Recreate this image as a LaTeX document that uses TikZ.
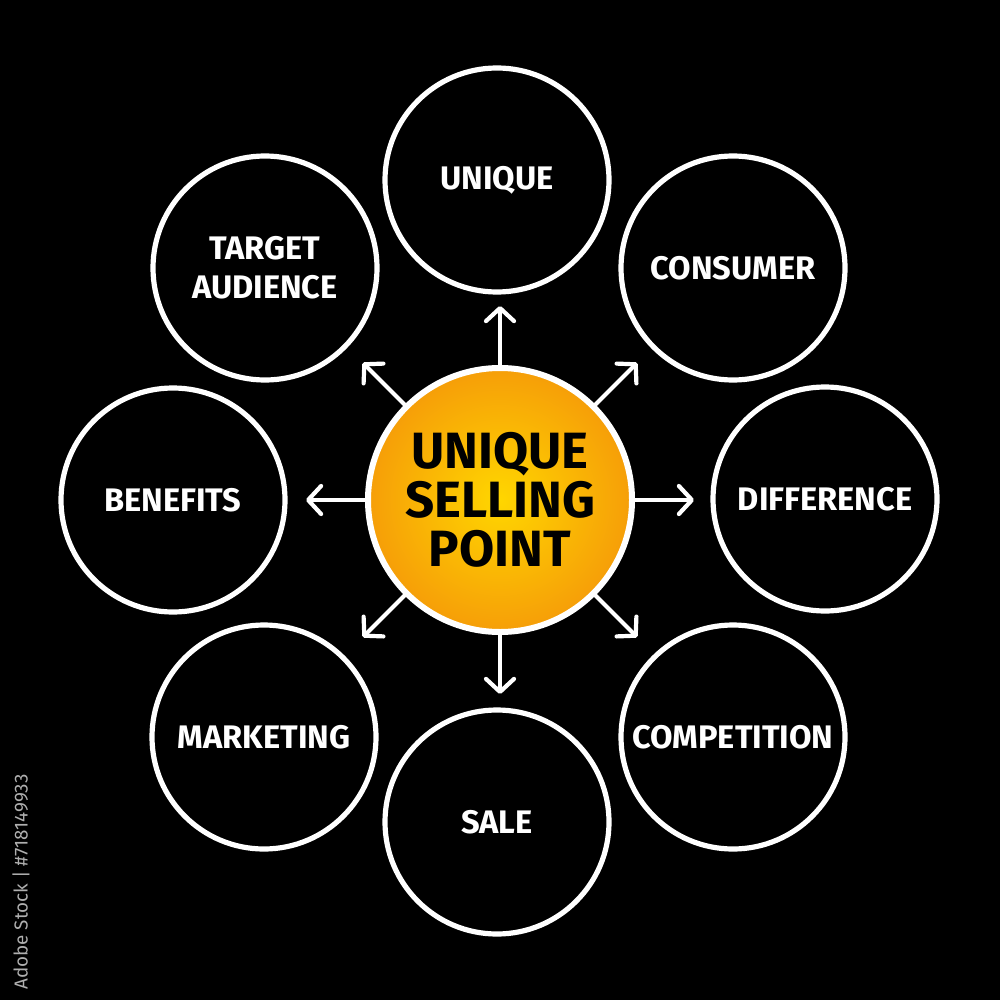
\documentclass[tikz,border=0pt]{standalone}
\usepackage{fontspec}
\setmainfont{Fira Sans}
\usetikzlibrary{arrows.meta,calc}
\definecolor{orin}{RGB}{255,214,0}
\definecolor{orout}{RGB}{246,158,8}
\definecolor{tagc}{RGB}{175,175,175}
\tikzset{
  outer/.style={circle,draw=white,line width=2.6pt,minimum size=112pt,inner sep=0pt,
    text=white,font=\fontsize{16.3}{19.5}\selectfont\bfseries,align=center},
  core/.style={circle,draw=white,line width=3pt,minimum size=132pt,inner sep=0pt,
    shading=radial,inner color=orin,outer color=orout,
    text=black,font=\fontsize{25.5}{24.5}\selectfont\bfseries,align=center},
  ray/.style={draw=white,line width=2.1pt,line cap=round,
    -{Straight Barb[length=6.5pt,width=14pt,line width=2.1pt,round]}}
}
\begin{document}
\begin{tikzpicture}[x=0.5pt,y=-0.5pt]
\fill[black] (0,0) rectangle (1000,1000);
\useasboundingbox (0,0) rectangle (1000,1000);
\node[core] (c) at (500,500) {UNIQUE\\SELLING\\POINT};
\node[outer] (n) at (497,180) {UNIQUE};
\node[outer] (ne) at (733,268) {CONSUMER};
\node[outer] (e) at (825,499) {DIFFERENCE};
\node[outer] (se) at (733,737) {COMPETITION};
\node[outer] (s) at (497,822) {SALE};
\node[outer] (sw) at (264,737) {MARKETING};
\node[outer] (w) at (173,500) {BENEFITS};
\node[outer] (nw) at (265,268) {TARGET\\AUDIENCE};
\foreach \nm/\ang in {an/270,ane/315,ae/0,ase/45,as/90,asw/135,aw/180,anw/225}{
  \coordinate (\nm) at ($(500,500)+(\ang:194)$);
}
\foreach \nm in {an,ane,ae,ase,as,asw,aw,anw}{
  \draw[ray] (c) -- (\nm);
}
\node[rotate=90,text=tagc,font=\fontsize{9.4}{11}\selectfont,inner sep=0pt] (tag) at (21,882) {Adobe Stock | \#718149933};
\end{tikzpicture}
\end{document}
